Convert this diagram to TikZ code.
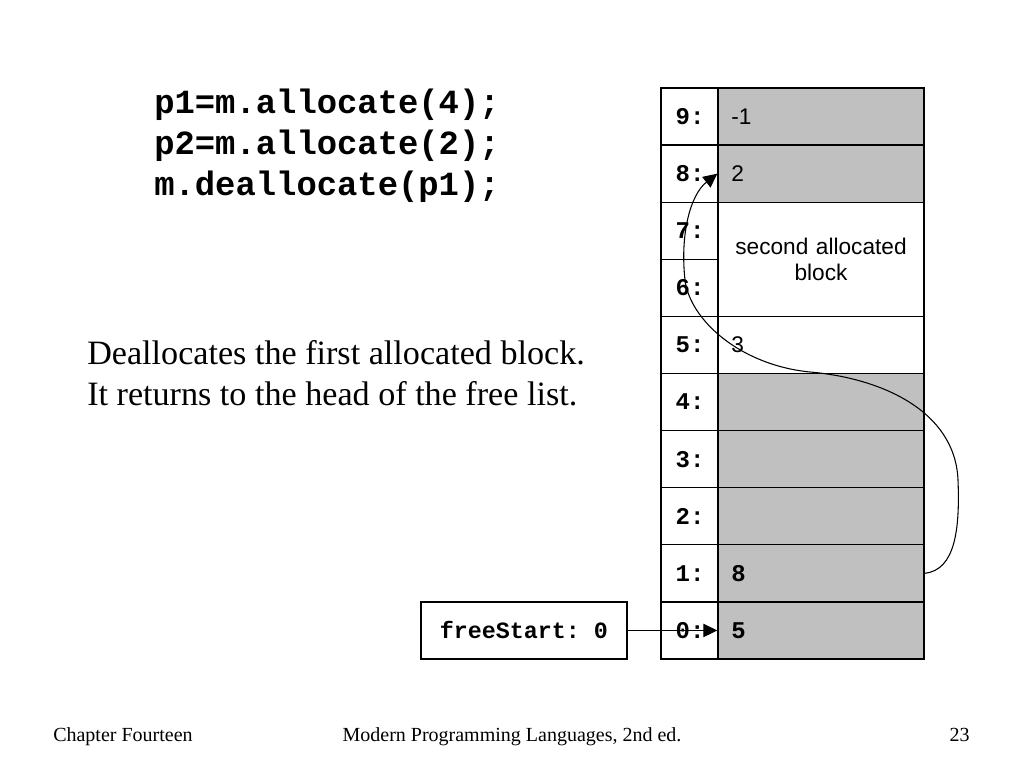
\documentclass[tikz,border=0pt]{standalone}
\usepackage{fontspec}
\setmainfont{Liberation Serif}
\setsansfont{Liberation Sans}
\setmonofont{Liberation Mono}
\usetikzlibrary{arrows.meta}
\definecolor{cellgray}{RGB}{192,192,192}

\begin{document}
\begin{tikzpicture}[x=0.75pt,y=-0.75pt,
  idx/.style={draw,line width=1pt,minimum width=43.5pt,minimum height=42.8pt,inner sep=0pt,
    font=\fontsize{18}{20}\selectfont\ttfamily\bfseries},
  val/.style={draw,line width=1pt,minimum width=154.5pt,minimum height=42.8pt,
    text width=134.5pt,inner xsep=10pt,inner ysep=0pt,align=left},
  freecell/.style={val,fill=cellgray},
  usedcell/.style={val,fill=white},
  memtt/.style={font=\fontsize{18}{20}\selectfont\ttfamily\bfseries},
  memsf/.style={font=\fontsize{17}{20}\selectfont\sffamily},
  codeline/.style={anchor=base west,inner sep=0pt,font=\fontsize{25.4}{30}\selectfont\ttfamily\bfseries},
  textline/.style={anchor=base west,inner sep=0pt,font=\fontsize{25.6}{31}\selectfont},
  footer/.style={inner sep=0pt,font=\fontsize{15}{18}\selectfont},
  link/.style={line width=0.8pt,-{Triangle[length=10.5pt,width=10pt]}}]
\useasboundingbox (0,0) rectangle (1024,768);

% code
\node[codeline] (code1) at (154,113) {p1=m.allocate(4);};
\node[codeline] (code2) at (154,154) {p2=m.allocate(2);};
\node[codeline] (code3) at (154,195) {m.deallocate(p1);};

\node[textline] (text1) at (87,364) {Deallocates the first allocated block.};
\node[textline] (text2) at (87,405) {It returns to the head of the free list.};

% memory index column
\node[idx] (i9) at (690,116.55) {9:};
\node[idx] (i8) at (690,173.65) {8:};
\node[idx] (i7) at (690,230.75) {7:};
\node[idx] (i6) at (690,287.85) {6:};
\node[idx] (i5) at (690,344.95) {5:};
\node[idx] (i4) at (690,402.05) {4:};
\node[idx] (i3) at (690,459.15) {3:};
\node[idx] (i2) at (690,516.25) {2:};
\node[idx] (i1) at (690,573.35) {1:};
\node[idx] (i0) at (690,630.45) {0:};

% memory values
\node[freecell,memsf] (v9) at (821,116.55) {-1};
\node[freecell,memsf] (v8) at (821,173.65) {2};
\node[usedcell,memsf,minimum height=85.65pt,align=center] (v76) at (821,259.3) {second allocated\\[-1pt]block};
\node[usedcell,memsf] (v5) at (821,344.95) {3};
\node[freecell] (v4) at (821,402.05) {};
\node[freecell] (v3) at (821,459.15) {};
\node[freecell] (v2) at (821,516.25) {};
\node[freecell,memtt] (v1) at (821,573.35) {8};
\node[freecell,memtt] (v0) at (821,630.45) {5};

\node[draw,line width=1pt,minimum width=154.5pt,minimum height=42.8pt,font=\fontsize{17.5}{20}\selectfont\ttfamily\bfseries] (start) at (524,630.45) {freeStart: 0};

\draw[link] (start.east) -- (v0.west);
\draw[link] (v1.east) .. controls (955,570) and (960,530) .. (958,480)
  .. controls (955,410) and (880,378) .. (810,372)
  .. controls (740,365) and (690,320) .. (685,280)
  .. controls (680,235) and (690,195) .. (v8.west);

% footer
\node[footer,anchor=base west] (chap) at (53,741) {Chapter Fourteen};
\node[footer,anchor=base] (book) at (512,741) {Modern Programming Languages, 2nd ed.};
\node[footer,anchor=base east] (page) at (970,741) {23};
\end{tikzpicture}
\end{document}
